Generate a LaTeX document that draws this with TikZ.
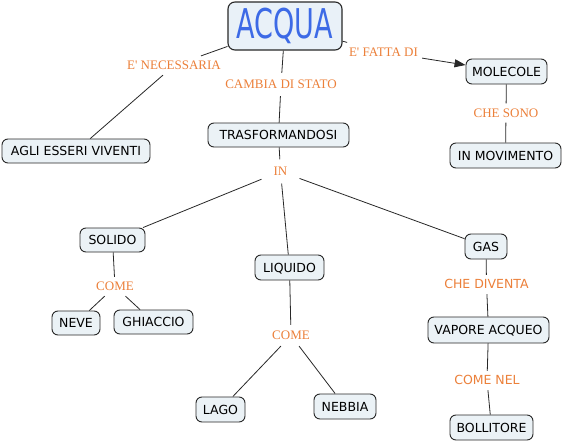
\documentclass[tikz,border=0pt]{standalone}
\usepackage{fontspec}
\setmainfont{Liberation Serif}
\newfontfamily\boxfont{DejaVu Sans}
\usetikzlibrary{arrows.meta}
\definecolor{boxfill}{RGB}{235,242,246}
\definecolor{topfill}{RGB}{233,241,248}
\definecolor{linkcol}{RGB}{236,128,58}
\definecolor{titlecol}{RGB}{61,106,230}
\definecolor{edgecol}{RGB}{40,40,40}
\tikzset{
  concept/.style={draw=edgecol, line width=0.9pt, fill=boxfill, rounded corners=6pt,
    inner sep=0pt, text=black, font=\boxfont\fontsize{12.5}{14}\selectfont,
    text height=9pt, text depth=0pt},
  title/.style={draw=edgecol, line width=1.1pt, fill=topfill, rounded corners=7pt,
    inner sep=0pt, text=titlecol},
  linklbl/.style={text=linkcol, font=\fontsize{13}{15}\selectfont,
    text height=8.8pt, text depth=0pt, inner xsep=4pt, inner ysep=5pt},
  linksans/.style={linklbl, font=\boxfont\fontsize{12.5}{14}\selectfont},
  conn/.style={draw=edgecol, line width=0.8pt},
}
\begin{document}
\begin{tikzpicture}[x=1pt,y=-1pt]
\useasboundingbox[fill=white] (0,0) rectangle (563,442);
% concepts
\node[title, minimum width=114pt, minimum height=48pt] (acqua) at (285,26)
  {\boxfont\fontsize{41}{41}\selectfont\scalebox{0.66}[1]{ACQUA}};
\node[concept, minimum width=148pt, minimum height=24pt] (agli) at (76,151) {AGLI ESSERI VIVENTI};
\node[concept, minimum width=141pt, minimum height=24pt] (trasf) at (278.5,135) {TRASFORMANDOSI};
\node[concept, minimum width=81pt, minimum height=25pt] (molecole) at (506.5,71.5) {MOLECOLE};
\node[concept, minimum width=111pt, minimum height=25pt] (inmov) at (505.5,155.5) {IN MOVIMENTO};
\node[concept, minimum width=65pt, minimum height=24pt] (solido) at (112.5,240) {SOLIDO};
\node[concept, minimum width=69pt, minimum height=25pt] (liquido) at (289.5,267.5) {LIQUIDO};
\node[concept, minimum width=42pt, minimum height=25pt] (gas) at (486,246.5) {GAS};
\node[concept, minimum width=48pt, minimum height=24pt] (neve) at (76,323) {NEVE};
\node[concept, minimum width=79pt, minimum height=24pt] (ghiaccio) at (153.5,322) {GHIACCIO};
\node[concept, minimum width=121pt, minimum height=26pt] (vapore) at (488.5,330) {VAPORE ACQUEO};
\node[concept, minimum width=49pt, minimum height=25pt] (lago) at (220.5,409.5) {LAGO};
\node[concept, minimum width=62pt, minimum height=25pt] (nebbia) at (345,406.5) {NEBBIA};
\node[concept, minimum width=83pt, minimum height=25pt] (bollitore) at (491.5,427.5) {BOLLITORE};
% linking phrases
\node[linklbl] (nec) at (174,65.5) {E\textquotesingle{} NECESSARIA};
\node[linklbl, inner ysep=7pt] (cambia) at (281,84.5) {CAMBIA DI STATO};
\node[linklbl] (fatta) at (383.5,52) {E\textquotesingle{} FATTA DI};
\node[linklbl] (chesono) at (506,113) {CHE SONO};
\node[linklbl, inner xsep=12pt, inner ysep=7.5pt] (in) at (280.5,171.5) {IN};
\node[linklbl] (come1) at (115,286.5) {COME};
\node[linklbl, inner ysep=6pt] (come2) at (291,335.5) {COME};
\node[linksans] (chediv) at (486.5,284.5) {CHE DIVENTA};
\node[linksans] (comenel) at (487,380.5) {COME NEL};
% connectors
\draw[conn] (acqua) -- (nec);
\draw[conn] (nec) -- (agli);
\draw[conn] (acqua) -- (cambia);
\draw[conn] (cambia) -- (trasf);
\draw[conn] (acqua) -- (fatta);
\draw[conn, -{Triangle[length=11pt,width=8pt]}] (fatta) -- (molecole);
\draw[conn] (molecole) -- (chesono);
\draw[conn] (chesono) -- (inmov);
\draw[conn] (trasf) -- (in);
\draw[conn] (in) -- (solido);
\draw[conn] (in) -- (liquido);
\draw[conn] (in) -- (gas);
\draw[conn] (solido) -- (come1);
\draw[conn] (come1) -- (neve);
\draw[conn] (come1) -- (ghiaccio);
\draw[conn] (liquido) -- (come2);
\draw[conn] (come2) -- (lago);
\draw[conn] (come2) -- (nebbia);
\draw[conn] (gas) -- (chediv);
\draw[conn] (chediv) -- (vapore);
\draw[conn] (vapore) -- (comenel);
\draw[conn] (comenel) -- (bollitore);
\end{tikzpicture}
\end{document}
